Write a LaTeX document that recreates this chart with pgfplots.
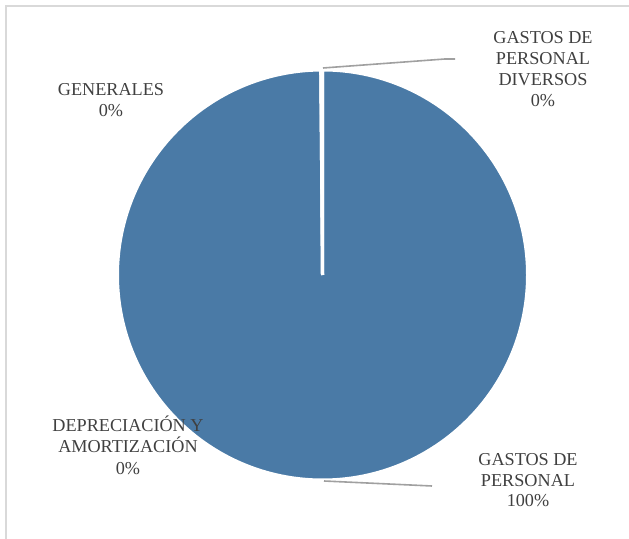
\documentclass[border=0pt]{standalone}
\usepackage{pgfplots}
\pgfplotsset{compat=1.18}
\usepackage{fontspec}
\setmainfont{Liberation Serif}
\definecolor{slicecol}{HTML}{4A7AA6}
\definecolor{lblcol}{HTML}{404040}
\definecolor{leadcol}{HTML}{A0A0A0}
\definecolor{framecol}{HTML}{D9D9D9}
\tikzset{lbl/.style={anchor=base, text=lblcol, inner sep=0pt, font=\fontsize{18.2bp}{21bp}\selectfont}}
% slice values (percent)
\def\vPers{99.86}
\def\vDep{0.04}
\def\vGen{0.05}
\def\vDiv{0.05}
\pgfmathsetmacro{\aZ}{90}
\pgfmathsetmacro{\aA}{\aZ-3.6*\vPers}
\pgfmathsetmacro{\aB}{\aA-3.6*\vDep}
\pgfmathsetmacro{\aC}{\aB-3.6*\vGen}
\pgfmathsetmacro{\aD}{\aC-3.6*\vDiv}
\begin{document}
\begin{tikzpicture}
\begin{axis}[
  at={(0,0)}, anchor=south west,
  width=629bp, height=539bp, scale only axis,
  xmin=0, xmax=629, ymin=0, ymax=539,
  hide axis, clip=false,
]
% frame (top and left visible)
\draw[framecol, line width=1.5bp] (axis cs:6,-5) -- (axis cs:6,533) -- (axis cs:640,533);
% slices
\filldraw[fill=slicecol, draw=white, line width=3bp] (axis cs:322.5,264) -- ++(\aZ:205bp) arc[start angle=\aZ, end angle=\aA, radius=205bp] -- cycle;
\filldraw[fill=slicecol, draw=white, line width=3bp] (axis cs:322.5,264) -- ++(\aA:205bp) arc[start angle=\aA, end angle=\aB, radius=205bp] -- cycle;
\filldraw[fill=slicecol, draw=white, line width=3bp] (axis cs:322.5,264) -- ++(\aB:205bp) arc[start angle=\aB, end angle=\aC, radius=205bp] -- cycle;
\filldraw[fill=slicecol, draw=white, line width=3bp] (axis cs:322.5,264) -- ++(\aC:205bp) arc[start angle=\aC, end angle=\aD, radius=205bp] -- cycle;
% leader lines
\draw[leadcol, line width=1.6bp] (axis cs:323,471) -- (axis cs:445,480) -- (axis cs:455,480);
\draw[leadcol, line width=1.6bp] (axis cs:324,58) -- (axis cs:432,53);
% labels
\node[lbl] at (axis cs:543,495) {GASTOS DE};
\node[lbl] at (axis cs:543,474) {PERSONAL};
\node[lbl] at (axis cs:543,453) {DIVERSOS};
\node[lbl] at (axis cs:543,432) {0\%};
\node[lbl] at (axis cs:528,73) {GASTOS DE};
\node[lbl] at (axis cs:528,52) {PERSONAL};
\node[lbl] at (axis cs:528,32) {100\%};
\node[lbl] at (axis cs:111,443) {GENERALES};
\node[lbl] at (axis cs:111,422) {0\%};
\node[lbl] at (axis cs:128,107) {DEPRECIACIÓN Y};
\node[lbl] at (axis cs:128,86) {AMORTIZACIÓN};
\node[lbl] at (axis cs:128,64) {0\%};
\end{axis}
\pgfresetboundingbox
\path (0,0) rectangle (629bp,539bp);
\end{tikzpicture}
\end{document}
